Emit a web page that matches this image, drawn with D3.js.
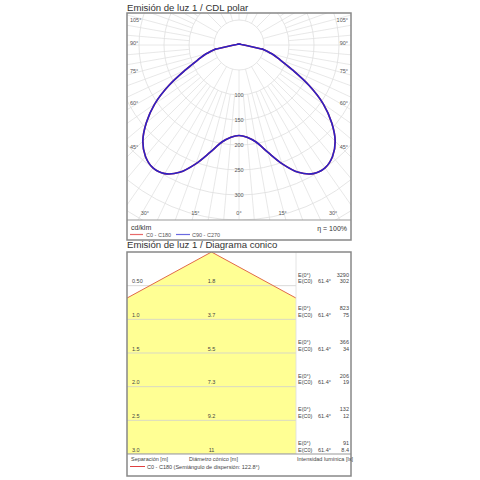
<!DOCTYPE html>
<html><head><meta charset="utf-8">
<script src="https://cdn.jsdelivr.net/npm/d3@7"></script>
<style>body{margin:0;background:#fff}svg{display:block;font-family:"Liberation Sans",Arial,sans-serif}</style>
</head><body><svg id="c" width="480" height="480"></svg>
<script>
// ---- data ----
const gammaAngles = [0,5,10,15,20,25,30,35,40,45,50,55,60,65,70,75,80,85,90,95,100,105,110,120,130,140,150,160,170,180];
const c0c180   = [181,185,197,222,253,281,297,300,291,272,242,206,162,118,88,68,48,17,10,7,5,4,4,3,3,2,2,2,2,2];
const c90c270  = [181,185,197,222,253,281,297,300,291,272,242,206,162,118,88,68,48,17,10,7,5,4,4,3,3,2,2,2,2,2];
const ringValues = [50,100,150,200,250,300,350,400];
const ringLabels = [100,150,200,250,300];
const sideAngleLabels = [105,90,75,60,45];
const bottomAngleLabels = [30,15,0,15,30];
const bottomAngleSigns = [-1,-1,0,1,1];
const polarLegend = ["C0 - C180","C90 - C270"];
const separations = [0.5,1.0,1.5,2.0,2.5,3.0];
const sepLabels = ["0.50","1.0","1.5","2.0","2.5","3.0"];
const diamLabels = ["1.8","3.7","5.5","7.3","9.2","11"];
const e0Values = ["3290","823","366","206","132","91"];
const eC0Values = ["302","75","34","19","12","8.4"];
const halfAngle = 61.4;
const smoothLimit = 80; // smooth curve below this gamma, straight segments above

const svg = d3.select("#c");
const txt = "#444";

// ================= POLAR PANEL =================
const P = {x0:127, x1:351, y0:13, y1:220, yb:240, cx:239, cy:45};
svg.append("text").attr("x",127).attr("y",11).attr("font-size",9.6).attr("fill","#333").text("Emisión de luz 1 / CDL polar");
const defs = svg.append("defs");
defs.append("clipPath").attr("id","pc").append("rect")
  .attr("x",P.x0).attr("y",P.y0).attr("width",P.x1-P.x0).attr("height",P.y1-P.y0);
const r = d3.scaleLinear().domain([0,400]).range([0,200]);
const pg = svg.append("g").attr("clip-path","url(#pc)");
const g = pg.append("g").attr("transform",`translate(${P.cx},${P.cy})`);
// spokes
for (let a=0;a<360;a+=5){
  const major = a%15===0;
  const rad = a*Math.PI/180;
  const r0 = major? r(50): r(100);
  g.append("line")
    .attr("x1", r0*Math.sin(rad)).attr("y1", r0*Math.cos(rad))
    .attr("x2", 300*Math.sin(rad)).attr("y2", 300*Math.cos(rad))
    .attr("stroke","#e2e2e2").attr("stroke-width",0.8);
}
g.selectAll("circle.ring").data(ringValues).join("circle")
  .attr("r",d=>r(d)).attr("fill","none").attr("stroke","#dedede").attr("stroke-width",0.8);
g.selectAll("text.rl").data(ringLabels).join("text")
  .attr("x",0).attr("y",d=>r(d)+2).attr("text-anchor","middle")
  .attr("font-size",5.5).attr("fill","#555").text(d=>d);

// curves
function drawCurve(vals, color){
  const low = gammaAngles.map((a,i)=>({a,v:vals[i]})).filter(d=>d.a<=smoothLimit);
  const high = gammaAngles.map((a,i)=>({a,v:vals[i]})).filter(d=>d.a>=smoothLimit);
  const lowPts = low.slice().reverse().map(d=>[Math.PI + d.a*Math.PI/180, r(d.v)])
    .concat(low.slice(1).map(d=>[Math.PI - d.a*Math.PI/180, r(d.v)]));
  const highPts = high.map(d=>[Math.PI - d.a*Math.PI/180, r(d.v)])
    .concat(high.slice().reverse().slice(1).map(d=>[Math.PI + d.a*Math.PI/180, r(d.v)]));
  const smooth = d3.lineRadial().curve(d3.curveCatmullRom.alpha(0.5));
  const straight = d3.lineRadial().curve(d3.curveLinear);
  [smooth(lowPts), straight(highPts)].forEach(p=>
    g.append("path").attr("d",p).attr("fill","none").attr("stroke",color)
     .attr("stroke-width",1.6).attr("stroke-linejoin","round").attr("stroke-linecap","round"));
}
drawCurve(c0c180, "#e03030");
drawCurve(c90c270, "#2a22c8");

// angle labels
sideAngleLabels.forEach(a=>{
  const rad=a*Math.PI/180;
  let y = P.cy + 104/Math.tan(rad) - 2;
  y = Math.max(y, 20);
  svg.append("text").attr("x",130).attr("y",y+2).attr("font-size",5.5).attr("fill","#555").text(a+"°");
  svg.append("text").attr("x",348).attr("y",y+2).attr("text-anchor","end").attr("font-size",5.5).attr("fill","#555").text(a+"°");
});
bottomAngleLabels.forEach((a,i)=>{
  const rad=a*Math.PI/180;
  let x = P.cx + bottomAngleSigns[i]*168*Math.tan(rad)*0.97;
  x = Math.max(136, Math.min(342, x));
  svg.append("text").attr("x",x).attr("y",215).attr("text-anchor","middle").attr("font-size",5.5).attr("fill","#555").text(a+"°");
});
// frame + legend
svg.append("line").attr("x1",P.x0).attr("x2",P.x1).attr("y1",P.y1).attr("y2",P.y1).attr("stroke","#999").attr("stroke-width",1);
svg.append("rect").attr("x",P.x0).attr("y",P.y0).attr("width",P.x1-P.x0).attr("height",P.yb-P.y0)
  .attr("fill","none").attr("stroke","#888").attr("stroke-width",1.5);
svg.append("text").attr("x",131).attr("y",230).attr("font-size",7).attr("fill","#333").text("cd/klm");
svg.append("line").attr("x1",130).attr("x2",143).attr("y1",234.5).attr("y2",234.5).attr("stroke","#e86a6a").attr("stroke-width",1.2);
svg.append("text").attr("x",146).attr("y",236.5).attr("font-size",5.5).attr("fill","#555").text(polarLegend[0]);
svg.append("line").attr("x1",176).attr("x2",190).attr("y1",234.5).attr("y2",234.5).attr("stroke","#6a6ae0").attr("stroke-width",1.2);
svg.append("text").attr("x",192).attr("y",236.5).attr("font-size",5.5).attr("fill","#555").text(polarLegend[1]);
svg.append("text").attr("x",347).attr("y",231).attr("text-anchor","end").attr("font-size",7).attr("fill","#333").text("η = 100%");

// ================= CONE PANEL =================
const C = {x0:127, x1:351, xp:296, y0:252, y1:454, yb:476};
svg.append("text").attr("x",127).attr("y",248).attr("font-size",9.6).attr("fill","#333").text("Emisión de luz 1 / Diagrama conico");
const ys = d3.scaleLinear().domain([0,3]).range([C.y0,C.y1]);
const kx = (C.y1-C.y0)/3;
const xs = d3.scaleLinear().domain([-(C.xp-C.x0)/2/kx,(C.xp-C.x0)/2/kx]).range([C.x0,C.xp]);
defs.append("clipPath").attr("id","cc").append("rect")
  .attr("x",C.x0).attr("y",C.y0).attr("width",C.xp-C.x0).attr("height",C.y1-C.y0);
const cg = svg.append("g").attr("clip-path","url(#cc)");
const t = Math.tan(halfAngle*Math.PI/180);
const dMax = 3;
const conePts = [[0,0],[-dMax*t,dMax],[dMax*t,dMax]];
cg.append("path").attr("d", d3.line().x(d=>xs(d[0])).y(d=>ys(d[1]))(conePts)+"Z")
  .attr("fill","#ffff94").attr("stroke","none");
separations.forEach(d=>{
  cg.append("line").attr("x1",C.x0).attr("x2",C.xp).attr("y1",ys(d)).attr("y2",ys(d)).attr("stroke","#cfcfcf").attr("stroke-width",0.8);
});
cg.append("path").attr("d", d3.line().x(d=>xs(d[0])).y(d=>ys(d[1]))([[-dMax*t,dMax],[0,0],[dMax*t,dMax]]))
  .attr("fill","none").attr("stroke","#e06a4a").attr("stroke-width",1);
svg.append("line").attr("x1",C.xp).attr("x2",C.xp).attr("y1",C.y0).attr("y2",C.y1).attr("stroke","#ddd").attr("stroke-width",0.8);
separations.forEach((d,i)=>{
  const y = ys(d);
  svg.append("text").attr("x",132).attr("y",y-2.5).attr("font-size",5.5).attr("fill",txt).text(sepLabels[i]);
  svg.append("text").attr("x",xs(0)).attr("y",y-2.5).attr("text-anchor","middle").attr("font-size",5.5).attr("fill",txt).text(diamLabels[i]);
  svg.append("text").attr("x",298).attr("y",y-9).attr("font-size",5.5).attr("fill",txt).text("E(0°)");
  svg.append("text").attr("x",298).attr("y",y-2.5).attr("font-size",5.5).attr("fill",txt).text("E(C0)");
  svg.append("text").attr("x",318).attr("y",y-2.5).attr("font-size",5.5).attr("fill",txt).text(halfAngle+"°");
  svg.append("text").attr("x",349).attr("y",y-9).attr("text-anchor","end").attr("font-size",5.5).attr("fill",txt).text(e0Values[i]);
  svg.append("text").attr("x",349).attr("y",y-2.5).attr("text-anchor","end").attr("font-size",5.5).attr("fill",txt).text(eC0Values[i]);
});
svg.append("line").attr("x1",C.x0).attr("x2",C.x1).attr("y1",C.y1).attr("y2",C.y1).attr("stroke","#999").attr("stroke-width",1);
svg.append("rect").attr("x",C.x0).attr("y",C.y0).attr("width",C.x1-C.x0).attr("height",C.yb-C.y0)
  .attr("fill","none").attr("stroke","#888").attr("stroke-width",1.5);
svg.append("text").attr("x",131).attr("y",460.5).attr("font-size",5.5).attr("fill",txt).text("Separación [m]");
svg.append("text").attr("x",189).attr("y",460.5).attr("font-size",5.5).attr("fill",txt).text("Diámetro cónico [m]");
svg.append("text").attr("x",297).attr("y",460.5).attr("font-size",5.5).attr("fill",txt).text("Intensidad lumínica [lx]");
svg.append("line").attr("x1",130).attr("x2",145).attr("y1",466.5).attr("y2",466.5).attr("stroke","#e04040").attr("stroke-width",1);
svg.append("text").attr("x",147).attr("y",468.5).attr("font-size",5.5).attr("fill",txt).text("C0 - C180 (Semiángulo de dispersión: 122.8°)");
</script></body></html>
